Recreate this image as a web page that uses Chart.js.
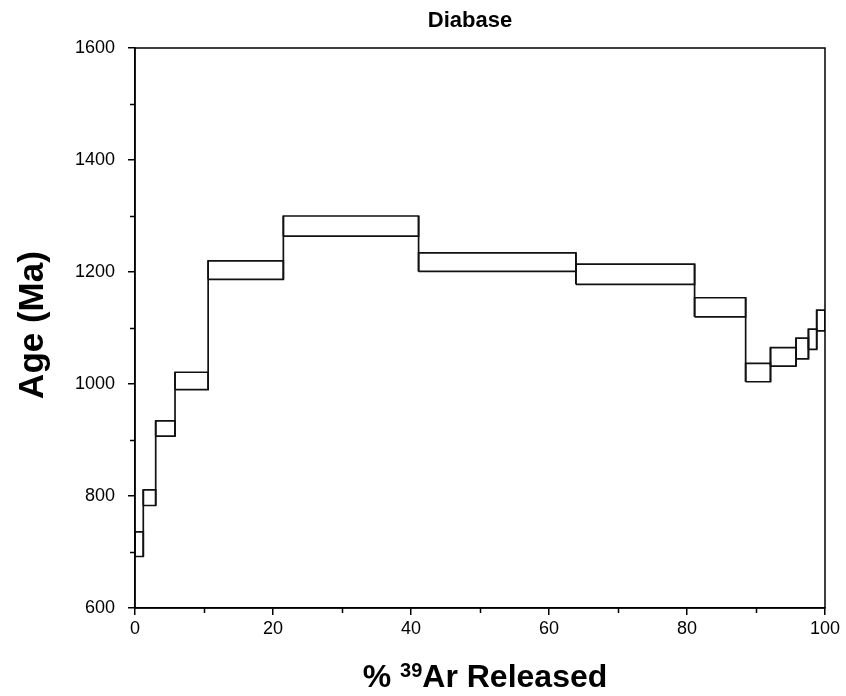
<!DOCTYPE html>
<html>
<head>
<meta charset="utf-8">
<title>Diabase</title>
<script src="https://cdn.jsdelivr.net/npm/chart.js@4/dist/chart.umd.min.js"></script>
<style>
  body { margin: 0; background: #fff; }
  #wrap { width: 846px; height: 696px; }
</style>
</head>
<body>
<div id="wrap"><canvas id="spectrum" width="846" height="696"></canvas></div>
<script>
// ==== step edges (% 39Ar released) and age bounds for each step (Ma) ====
const stepEdges = [0, 1.2, 3.0, 5.8, 10.6, 21.5, 41.1, 63.9, 81.1, 88.5, 92.1, 95.8, 97.6, 98.8, 100];
const ageHigh = [736, 811, 934, 1021, 1220, 1300, 1234, 1214, 1154, 1037, 1065, 1082, 1098, 1132];
const ageLow  = [692, 783, 907, 990, 1187, 1264, 1201, 1178, 1120, 1004, 1032, 1045, 1062, 1095];

const xTickValues = [0, 20, 40, 60, 80, 100];
const yTickValues = [600, 800, 1000, 1200, 1400, 1600];
const xMinorTicks = [10, 30, 50, 70, 90];
const yMinorTicks = [700, 900, 1100, 1300, 1500];

const chartTitle = "Diabase";
const yTitle = "Age (Ma)";

const FONT = '"Liberation Sans", Arial, sans-serif';
const LINE = { showLine: true, borderColor: "#111", borderWidth: 1.7, pointRadius: 0, fill: false, tension: 0 };

// one closed box per heating step
const boxes = ageHigh.map((hi, i) => {
    const x0 = stepEdges[i], x1 = stepEdges[i + 1], lo = ageLow[i];
    return {
        ...LINE,
        data: [
            { x: x0, y: lo }, { x: x0, y: hi },
            { x: x1, y: hi }, { x: x1, y: lo },
            { x: x0, y: lo }
        ]
    };
});

// vertical risers joining neighbouring steps
const risers = stepEdges.slice(1, -1).map((x, k) => {
    const a = k, b = k + 1;
    return {
        ...LINE,
        data: [
            { x, y: Math.min(ageLow[a], ageLow[b]) },
            { x, y: Math.max(ageHigh[a], ageHigh[b]) }
        ]
    };
});

// ==== frame, minor ticks and titles ====
const decorations = {
    id: "decorations",
    afterDraw(chart) {
        const { ctx, chartArea: a, scales } = chart;
        ctx.save();
        ctx.strokeStyle = "#000";
        ctx.lineWidth = 1.5;
        ctx.strokeRect(a.left, a.top, a.right - a.left, a.bottom - a.top);

        ctx.beginPath();
        xMinorTicks.forEach(v => {
            const px = Math.round(scales.x.getPixelForValue(v)) + 0.5;
            ctx.moveTo(px, a.bottom);
            ctx.lineTo(px, a.bottom + 5);
        });
        yMinorTicks.forEach(v => {
            const py = Math.round(scales.y.getPixelForValue(v)) + 0.5;
            ctx.moveTo(a.left, py);
            ctx.lineTo(a.left - 5, py);
        });
        ctx.stroke();

        ctx.fillStyle = "#000";
        ctx.textBaseline = "alphabetic";

        // chart title
        ctx.textAlign = "center";
        ctx.font = "bold 22px " + FONT;
        ctx.fillText(chartTitle, 470, 27);

        // y axis title
        ctx.save();
        ctx.translate(43, 325);
        ctx.rotate(-Math.PI / 2);
        ctx.font = "bold 35px " + FONT;
        ctx.fillText(yTitle, 0, 0);
        ctx.restore();

        // x axis title with superscript 39
        const big = "bold 32px " + FONT, small = "bold 20px " + FONT;
        const parts = [["% ", big, 0], ["39", small, -10], ["Ar Released", big, 0]];
        let total = 0;
        parts.forEach(p => { ctx.font = p[1]; total += ctx.measureText(p[0]).width; });
        let x = 485 - total / 2;
        ctx.textAlign = "left";
        parts.forEach(p => {
            ctx.font = p[1];
            ctx.fillText(p[0], x, 687 + p[2]);
            x += ctx.measureText(p[0]).width;
        });
        ctx.restore();
    }
};

new Chart(document.getElementById("spectrum"), {
    type: "scatter",
    data: { datasets: [...boxes, ...risers] },
    options: {
        responsive: false,
        devicePixelRatio: 1,
        animation: false,
        layout: { padding: { top: 48, right: 21, left: 0, bottom: 0 } },
        plugins: {
            legend: { display: false },
            tooltip: { enabled: false },
            title: { display: false }
        },
        scales: {
            x: {
                type: "linear",
                min: 0,
                max: 100,
                afterFit: s => { s.height = 88; },
                afterBuildTicks: s => { s.ticks = xTickValues.map(v => ({ value: v })); },
                grid: { display: true, drawOnChartArea: false, drawTicks: true, tickLength: 7, color: "#000", lineWidth: 1.5 },
                border: { display: true, color: "#000", width: 1.5 },
                ticks: { color: "#000", padding: 3, maxRotation: 0, callback: v => String(v), font: { family: FONT, size: 18 } }
            },
            y: {
                type: "linear",
                min: 600,
                max: 1600,
                afterFit: s => { s.width = 135; },
                afterBuildTicks: s => { s.ticks = yTickValues.map(v => ({ value: v })); },
                grid: { display: true, drawOnChartArea: false, drawTicks: true, tickLength: 7, color: "#000", lineWidth: 1.5 },
                border: { display: true, color: "#000", width: 1.5 },
                ticks: { color: "#000", padding: 13, callback: v => String(v), font: { family: FONT, size: 18 } }
            }
        }
    },
    plugins: [decorations]
});
</script>
</body>
</html>
